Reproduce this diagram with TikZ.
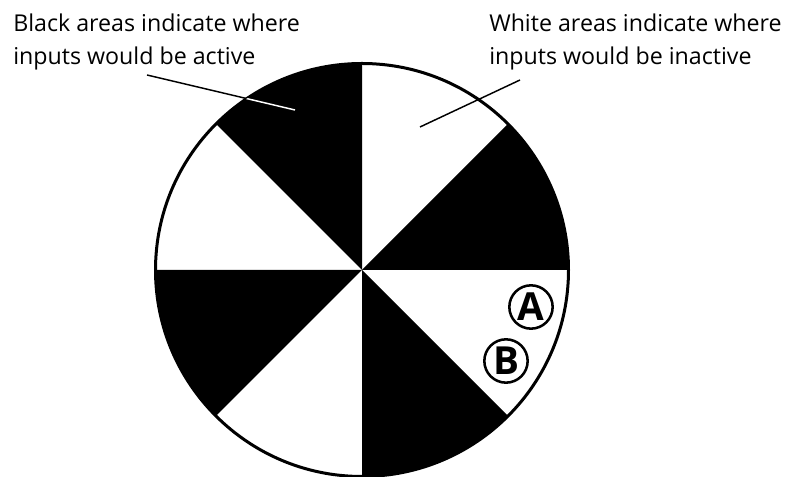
\documentclass[tikz,border=0pt]{standalone}
\usepackage{fontspec}
\setmainfont{Open Sans}
\tikzset{
  note/.style={anchor=north west, inner sep=0pt, align=left,
    font=\fontsize{17.4}{24.75}\selectfont},
  leader/.style={line width=1.1pt},
  letterring/.style={circle, draw, line width=1.9pt, minimum size=32.5pt,
    inner sep=0pt, font=\fontsize{29}{29}\selectfont\bfseries}
}
\begin{document}
\begin{tikzpicture}[x=0.75pt,y=0.75pt]
  \useasboundingbox (0,0) rectangle (790,477);
  \coordinate (O) at (362,207);
  % black sectors
  \foreach \a in {0,90,180,270}
    \fill (O) -- ++(\a:206.5) arc[start angle=\a, end angle=\a+45, radius=206.5] -- cycle;
  \draw[line width=2.25pt] (O) circle[radius=206.5];
  % notes
  \node[note] (blacknote) at (13,463) {Black areas indicate where\\inputs would be active};
  \node[note] (whitenote) at (489,463) {White areas indicate where\\inputs would be inactive};
  \coordinate (Bs) at (147,402); \coordinate (Bt) at (295,367);
  \coordinate (Ws) at (520,397); \coordinate (Wt) at (420,350);
  \draw[leader] (Bs) -- (Bt);
  \begin{scope}
    \clip (O) -- ++(90:206.5) arc[start angle=90, end angle=135, radius=206.5] -- cycle;
    \draw[leader, white] (Bs) -- (Bt);
  \end{scope}
  \draw[leader] (Ws) -- (Wt);
  % inputs
  \node[letterring] (A) at (531,170) {A};
  \node[letterring] (B) at (506,116) {B};
\end{tikzpicture}
\end{document}
